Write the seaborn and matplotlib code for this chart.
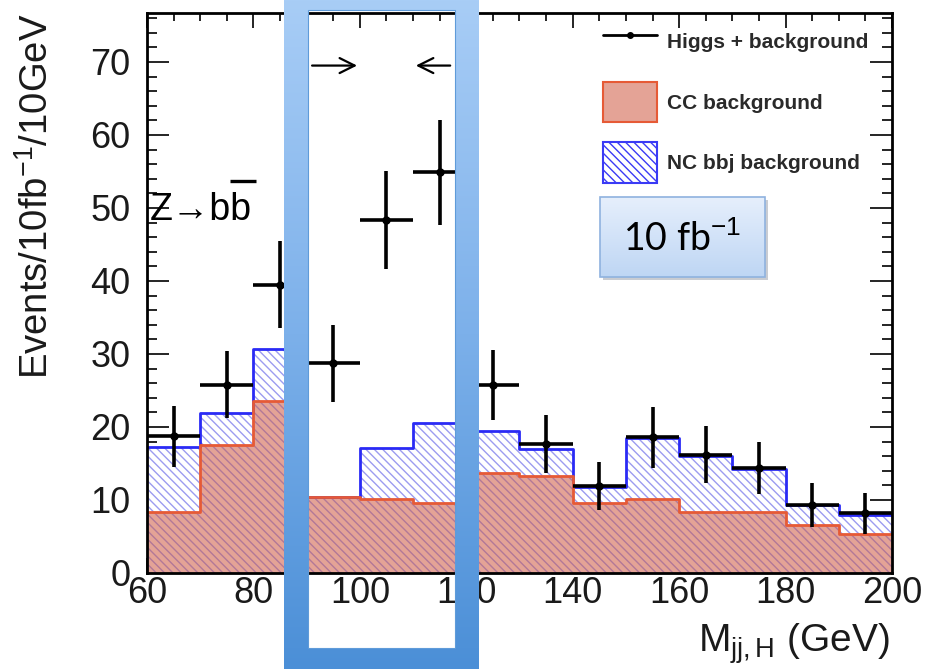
import numpy as np
import matplotlib
matplotlib.use("Agg")
import matplotlib.pyplot as plt
import seaborn as sns
from matplotlib.ticker import MultipleLocator
from matplotlib.lines import Line2D
from matplotlib.patches import Patch, Rectangle, PathPatch
from matplotlib.path import Path
from matplotlib.colors import LinearSegmentedColormap

# ---------------- data ----------------
bin_edges = [60, 70, 80, 90, 100, 110, 120, 130, 140, 150, 160, 170, 180, 190, 200]
bin_centers = [65, 75, 85, 95, 105, 115, 125, 135, 145, 155, 165, 175, 185, 195]
cc_background = [8.3, 17.5, 23.5, 10.4, 10.2, 9.6, 13.7, 13.3, 9.6, 10.1, 8.3, 8.3, 6.6, 5.3]
nc_bbj_background = [9.0, 4.4, 7.2, 0.0, 6.9, 11.0, 5.7, 3.7, 2.2, 8.4, 7.7, 5.9, 2.7, 2.7]
higgs_plus_bkg = [18.7, 25.8, 39.5, 28.7, 48.4, 54.9, 25.8, 17.7, 11.9, 18.6, 16.2, 14.4, 9.3, 8.2]
higgs_err = [4.2, 4.6, 6.0, 5.3, 6.7, 7.2, 4.8, 4.0, 3.3, 4.2, 3.9, 3.6, 3.0, 2.8]
x_ticks = [60, 80, 100, 120, 140, 160, 180, 200]
y_ticks = [0, 10, 20, 30, 40, 50, 60, 70]
legend_labels = ["Higgs + background", "CC background", "NC bbj background"]

# ---------------- style ----------------
sns.set_theme(style="ticks")
plt.rcParams["font.family"] = ["Liberation Sans", "DejaVu Sans"]
plt.rcParams["mathtext.fontset"] = "custom"
plt.rcParams["mathtext.rm"] = "Liberation Sans"
plt.rcParams["mathtext.it"] = "Liberation Sans:italic"
plt.rcParams["mathtext.bf"] = "Liberation Sans:bold"
plt.rcParams["hatch.linewidth"] = 1.0

W, H = 925, 669
fig = plt.figure(figsize=(W / 100, H / 100), dpi=100)
ax = fig.add_axes([147 / W, 1 - 573 / H, 745 / W, 560 / H])

cc = np.array(cc_background)
stack_top = cc + np.array(nc_bbj_background)

# NC bbj (stacked on CC) hatched blue
sns.histplot(x=bin_centers, weights=stack_top, bins=bin_edges, element="step",
             fill=True, facecolor="white", edgecolor="#9c9cf0", linewidth=0,
             hatch="\\\\\\\\", alpha=1, ax=ax)
# CC background red
sns.histplot(x=bin_centers, weights=cc, bins=bin_edges, element="step",
             fill=True, facecolor="#e4a396", edgecolor="#b27898", linewidth=0,
             hatch="\\\\\\\\", alpha=1, ax=ax)
# outlines
sns.lineplot(x=bin_edges, y=list(stack_top) + [stack_top[-1]], drawstyle="steps-post",
             color="#2a2af5", lw=2, ax=ax)
sns.lineplot(x=bin_edges, y=list(cc) + [cc[-1]], drawstyle="steps-post",
             color="#e65a36", lw=2, ax=ax)

half_width = np.diff(bin_edges) / 2
ax.errorbar(bin_centers, higgs_plus_bkg, xerr=half_width, yerr=higgs_err, fmt="o",
            ms=5, color="black", elinewidth=2.6, capsize=0, zorder=6)

ax.set_xlim(bin_edges[0], bin_edges[-1])
ax.set_ylim(0, 76.7)
ax.set_xlabel("")
ax.set_ylabel("")
ax.set_xticks(x_ticks)
ax.set_yticks(y_ticks)
ax.xaxis.set_minor_locator(MultipleLocator(5))
ax.yaxis.set_minor_locator(MultipleLocator(2))
ax.tick_params(which="both", direction="in", top=True, right=True, color="black",
               width=1.2, labelsize=26, labelcolor="#1a1a1a")
ax.tick_params(axis="x", which="major", length=11, pad=2)
ax.tick_params(axis="x", which="minor", length=6)
ax.tick_params(axis="y", which="major", length=16, pad=12)
ax.tick_params(axis="y", which="minor", length=7)
for s in ax.spines.values():
    s.set_linewidth(2)
    s.set_color("black")
    s.set_zorder(7)

# arrows marking mass window
ax.annotate("", xy=(100, 69.5), xytext=(90.5, 69.5),
            arrowprops=dict(arrowstyle="->,head_length=0.9,head_width=0.45", lw=1.6, color="black"))
ax.annotate("", xy=(110, 69.5), xytext=(117.5, 69.5),
            arrowprops=dict(arrowstyle="->,head_length=0.9,head_width=0.45", lw=1.6, color="black"))

# legend
handles = [Line2D([0], [0], color="black", lw=2, marker="o", ms=4),
           Patch(facecolor="#e4a396", edgecolor="#e65a36", lw=1.5),
           Patch(facecolor="white", edgecolor="#3a3af5", hatch="\\\\\\\\", lw=1.5)]
leg = ax.legend(handles, legend_labels, loc="upper left",
                bbox_to_anchor=(603 / W, 1 - 22 / H), bbox_transform=fig.transFigure,
                frameon=False, prop={"family": "Liberation Sans", "weight": "bold", "size": 15},
                handlelength=2.6, handleheight=2.6, handletextpad=0.45, labelspacing=0.95,
                borderpad=0, borderaxespad=0)
for t in leg.get_texts():
    t.set_color("#2a2a2a")

# axis labels
fig.text(37 / W, 1 - 14 / H, "Events/10fb$^{-1}$/10GeV", rotation=90, ha="center",
         va="top", fontsize=27.5, color="#1a1a1a")
fig.text(890 / W, 1 - 652 / H, r"M$_{\mathrm{jj,H}}$ (GeV)", ha="right", va="baseline",
         fontsize=28, color="#1a1a1a")

# ---------------- overlay annotations ----------------
ov = fig.add_axes([0, 0, 1, 1], zorder=10)
ov.patch.set_alpha(0)
ov.axis("off")

frame_cmap = LinearSegmentedColormap.from_list("frame", ["#a8cdf6", "#7cb0ea", "#4b8fd7"])
ox0, ox1, oy0, oy1 = 284, 479, -30, 700
ix0, ix1, iy0, iy1 = 308, 455, 9.5, 648
verts = [(ox0, oy0), (ox1, oy0), (ox1, oy1), (ox0, oy1), (ox0, oy0),
         (ix0, iy0), (ix0, iy1), (ix1, iy1), (ix1, iy0), (ix0, iy0)]
codes = [Path.MOVETO, Path.LINETO, Path.LINETO, Path.LINETO, Path.CLOSEPOLY] * 2
frame_patch = PathPatch(Path(verts, codes), facecolor="none", edgecolor="none")
ov.add_patch(frame_patch)
grad = np.linspace(0, 1, 256).reshape(-1, 1)
im = ov.imshow(grad, cmap=frame_cmap, extent=(0, W, H, 0), aspect="auto", zorder=2)
im.set_clip_path(frame_patch)
ov.add_patch(Rectangle((ix0, iy0), ix1 - ix0, iy1 - iy0, fill=False,
                       edgecolor="#5f9bd9", lw=0.8, zorder=3))

# 10 fb^-1 box
bx, by, bw, bh = 600, 197, 165, 80
ov.add_patch(Rectangle((bx + 3, by + 3), bw, bh, facecolor="#c9ccd2", edgecolor="none", zorder=3))
box_patch = Rectangle((bx, by), bw, bh, facecolor="none", edgecolor="none")
ov.add_patch(box_patch)
box_cmap = LinearSegmentedColormap.from_list("box", ["#e6effc", "#bed6f4"])
im2 = ov.imshow(grad, cmap=box_cmap, extent=(bx, bx + bw, by + bh, by), aspect="auto", zorder=4)
im2.set_clip_path(box_patch)
ov.add_patch(Rectangle((bx, by), bw, bh, fill=False, edgecolor="#8fb2df", lw=1.2, zorder=5))
ov.text(bx + bw / 2, by + bh / 2 + 2, "10 fb$^{-1}$", ha="center", va="center",
        fontsize=27, family=["Lato", "DejaVu Sans"], color="black", zorder=6)

# Z -> b bbar label
ov.text(150, 220, "Z\u2192bb", ha="left", va="baseline", fontsize=27,
        family=["Liberation Sans", "DejaVu Sans"], color="black", zorder=6)
ov.plot([230, 256], [181, 181], color="black", lw=2.4, solid_capstyle="butt", zorder=6)

ov.set_xlim(0, W)
ov.set_ylim(H, 0)

fig.savefig("out.png", dpi=100)
